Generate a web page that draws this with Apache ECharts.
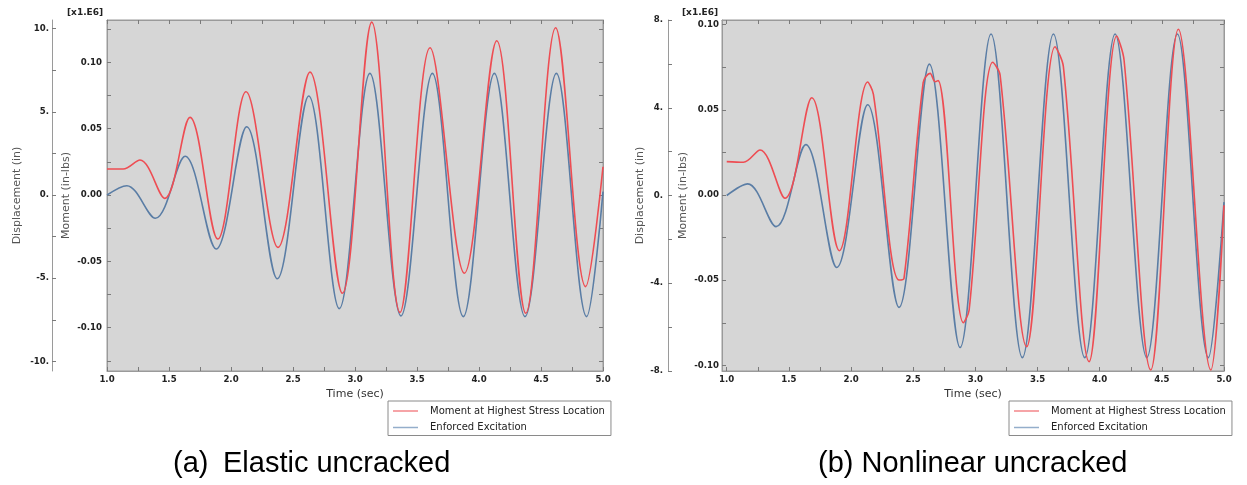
<!DOCTYPE html>
<html><head><meta charset="utf-8">
<script src="https://cdn.jsdelivr.net/npm/echarts@6/dist/echarts.min.js"></script>
<style>html,body{margin:0;padding:0;background:#fff;}#c{width:1247px;height:485px;}</style>
</head><body><div id="c"></div>
<script>
// ---------- tick values / labels ----------
const timeLabels = [1.0, 1.5, 2.0, 2.5, 3.0, 3.5, 4.0, 4.5, 5.0];
const timeTicks = [1.0, 1.25, 1.5, 1.75, 2.0, 2.25, 2.5, 2.75, 3.0, 3.25, 3.5, 3.75, 4.0, 4.25, 4.5, 4.75, 5.0];
const momentLabels = [-0.10, -0.05, 0.00, 0.05, 0.10];
const momentTicksA = [-0.125, -0.10, -0.075, -0.05, -0.025, 0, 0.025, 0.05, 0.075, 0.10, 0.125];
const momentTicksB = [-0.10, -0.075, -0.05, -0.025, 0, 0.025, 0.05, 0.075, 0.10];
const dispLabelsA = [-10, -5, 0, 5, 10];
const dispTicksA = [-10, -7.5, -5, -2.5, 0, 2.5, 5, 7.5, 10];
const dispLabelsB = [-8, -4, 0, 4, 8];
const dispTicksB = [-8, -6, -4, -2, 0, 2, 4, 6, 8];

const seriesNames = ['Moment at Highest Stress Location', 'Enforced Excitation'];
const captions = ['(a)', 'Elastic uncracked', '(b) Nonlinear uncracked'];

// ---------- (a) Elastic uncracked : [time (sec), value] (turning points) ----------
const momentA = [
  [1.00, 0.0196], [1.13, 0.0196], [1.266, 0.0264], [1.465, -0.0025],
  [1.669, 0.0586], [1.893, -0.0332], [2.121, 0.0779], [2.379, -0.0395],
  [2.637, 0.0927], [2.898, -0.0741], [3.135, 0.1304], [3.363, -0.0885],
  [3.605, 0.1111], [3.882, -0.0590], [4.143, 0.1163], [4.377, -0.0892],
  [4.618, 0.1261], [4.860, -0.0691], [5.0, 0.0213]
];
const excitationA = [
  [1.00, 0.00], [1.16, 0.56], [1.39, -1.40], [1.63, 2.33], [1.88, -3.25],
  [2.127, 4.10], [2.373, -5.03], [2.627, 5.95], [2.873, -6.83], [3.12, 7.31],
  [3.371, -7.27], [3.624, 7.31], [3.873, -7.31], [4.124, 7.31], [4.371, -7.31],
  [4.624, 7.31], [4.868, -7.31], [5.0, 0.2]
];

// ---------- (b) Nonlinear uncracked ----------
const momentB = [
  [1.00, 0.0196], [1.134, 0.0192], [1.268, 0.0264], [1.469, -0.0019],
  [1.684, 0.0571], [1.906, -0.0327], [2.134, 0.0663], [2.18, 0.059],
  [2.386, -0.0499], [2.426, -0.0489], [2.58, 0.0660], [2.636, 0.0714],
  [2.676, 0.0665], [2.70, 0.0671], [2.904, -0.075], [2.95, -0.0675],
  [3.14, 0.0779], [3.199, 0.0704], [3.413, -0.089], [3.641, 0.087],
  [3.708, 0.0753], [3.915, -0.0978], [4.137, 0.0933], [4.196, 0.0792],
  [4.411, -0.1027], [4.633, 0.0973], [4.894, -0.1027], [5.0, -0.006]
];
const excitationB = [
  [1.00, 0.00], [1.169, 0.53], [1.397, -1.42], [1.636, 2.32], [1.885, -3.28],
  [2.134, 4.14], [2.386, -5.10], [2.63, 5.99], [2.877, -6.93], [3.126, 7.36],
  [3.378, -7.39], [3.628, 7.36], [3.88, -7.39], [4.124, 7.36], [4.379, -7.39],
  [4.625, 7.36], [4.874, -7.39], [5.0, -0.3]
];

// ---------- styling ----------
const RED = '#ee4d53', BLUE = '#5a7da5';
const FRAME = '#9a9a9a', TICK = '#7a7a7a', PLOT_BG = '#d6d6d6';
const FONT = 'DejaVu Sans';
const tickLabelStyle = { fontFamily: FONT, fontSize: 8.6, fontWeight: 'bold', color: '#222' };
const nameStyle = { fontFamily: FONT, fontSize: 11, color: '#555' };

function timeAxis(grid, min, max, pos, main) {
  return {
    type: 'value', gridIndex: grid, position: pos, min: min, max: max,
    axisLine: { show: true, onZero: false, lineStyle: { color: FRAME } },
    axisTick: { show: true, inside: true, length: 4, customValues: timeTicks, lineStyle: { color: TICK } },
    axisLabel: Object.assign({ show: main, customValues: timeLabels, margin: 4,
      formatter: v => v.toFixed(1) }, tickLabelStyle),
    splitLine: { show: false },
    name: main ? 'Time (sec)' : '', nameLocation: 'middle', nameGap: 15,
    nameTextStyle: { fontFamily: FONT, fontSize: 11, color: '#333' }
  };
}
function momentAxis(grid, min, max, ticks, main, margin) {
  return {
    type: 'value', gridIndex: grid, position: main ? 'left' : 'right', min: min, max: max,
    axisLine: { show: true, onZero: false, lineStyle: { color: FRAME } },
    axisTick: { show: true, inside: true, length: 4, customValues: ticks, lineStyle: { color: TICK } },
    axisLabel: Object.assign({ show: main, customValues: momentLabels, margin: margin,
      formatter: v => v.toFixed(2) }, tickLabelStyle),
    splitLine: { show: false },
    name: main ? 'Moment (in-lbs)' : '', nameLocation: 'middle', nameRotate: 90,
    nameGap: main ? (grid === 0 ? 35 : 33) : 0, nameTextStyle: nameStyle
  };
}
function dispAxis(grid, min, max, labels, ticks, offset, margin, gap) {
  return {
    type: 'value', gridIndex: grid, position: 'left', offset: offset, min: min, max: max,
    axisLine: { show: true, onZero: false, lineStyle: { color: FRAME } },
    axisTick: { show: true, inside: true, length: 4, customValues: ticks, lineStyle: { color: TICK } },
    axisLabel: Object.assign({ customValues: labels, margin: margin,
      formatter: v => Math.round(v) + '.' }, tickLabelStyle),
    splitLine: { show: false },
    name: 'Displacement (in)', nameLocation: 'middle', nameRotate: 90, nameGap: gap,
    nameTextStyle: nameStyle
  };
}
function line(name, data, xi, yi, color) {
  return { type: 'line', name: name, data: data, xAxisIndex: xi, yAxisIndex: yi,
    showSymbol: false, smooth: 0.35, lineStyle: { color: color, width: 1.6 },
    itemStyle: { color: color }, emphasis: { disabled: true }, z: 3 };
}
function legendAt(left, top) {
  return {
    left: left, top: top, orient: 'vertical', icon: 'rect', itemWidth: 25, itemHeight: 1.5,
    itemGap: 4.5, padding: [4, 6, 2, 5], backgroundColor: '#fff', borderColor: '#8a8a8a', borderWidth: 1,
    borderRadius: 0, selectedMode: false,
    textStyle: { fontFamily: FONT, fontSize: 10, color: '#222', lineHeight: 12, padding: [0, 0, 0, 7] },
    data: [
      { name: seriesNames[0], itemStyle: { color: '#f3868a' } },
      { name: seriesNames[1], itemStyle: { color: '#94aecb' } }
    ]
  };
}

const chart = echarts.init(document.getElementById('c'), null, { renderer: 'canvas' });
chart.setOption({
  animation: false,
  backgroundColor: '#fff',
  grid: [
    { left: 107, top: 20, width: 496, height: 351, show: true, backgroundColor: PLOT_BG, borderColor: FRAME, borderWidth: 1 },
    { left: 722, top: 20, width: 502, height: 351, show: true, backgroundColor: PLOT_BG, borderColor: FRAME, borderWidth: 1 }
  ],
  xAxis: [
    timeAxis(0, 1.0, 5.0, 'bottom', true),
    timeAxis(0, 1.0, 5.0, 'top', false),
    timeAxis(1, 0.962, 5.0, 'bottom', true),
    timeAxis(1, 0.962, 5.0, 'top', false)
  ],
  yAxis: [
    momentAxis(0, -0.1327, 0.1320, momentTicksA, true, 5),
    momentAxis(0, -0.1327, 0.1320, momentTicksA, false, 5),
    dispAxis(0, -10.58, 10.52, dispLabelsA, dispTicksA, 55, 3, 29),
    momentAxis(1, -0.1033, 0.1027, momentTicksB, true, 3),
    momentAxis(1, -0.1033, 0.1027, momentTicksB, false, 3),
    dispAxis(1, -8, 8, dispLabelsB, dispTicksB, 54, 5, 22)
  ],
  legend: [legendAt(388, 401), legendAt(1009, 401)],
  series: [
    line(seriesNames[1], excitationA, 0, 2, BLUE),
    line(seriesNames[0], momentA, 0, 0, RED),
    line(seriesNames[1], excitationB, 2, 5, BLUE),
    line(seriesNames[0], momentB, 2, 3, RED)
  ],
  graphic: [
    { type: 'text', x: 67, y: 13, style: { text: '[x1.E6]', font: 'bold 9px "DejaVu Sans"', fill: '#222', verticalAlign: 'middle' } },
    { type: 'text', x: 682, y: 12.5, style: { text: '[x1.E6]', font: 'bold 9px "DejaVu Sans"', fill: '#222', verticalAlign: 'middle' } },
    { type: 'text', x: 173, y: 464, style: { text: captions[0], font: '29px "Liberation Sans"', fill: '#000', verticalAlign: 'middle' } },
    { type: 'text', x: 223, y: 464, style: { text: captions[1], font: '29px "Liberation Sans"', fill: '#000', verticalAlign: 'middle' } },
    { type: 'text', x: 818, y: 464, style: { text: captions[2], font: '29px "Liberation Sans"', fill: '#000', verticalAlign: 'middle' } }
  ]
});
</script></body></html>
